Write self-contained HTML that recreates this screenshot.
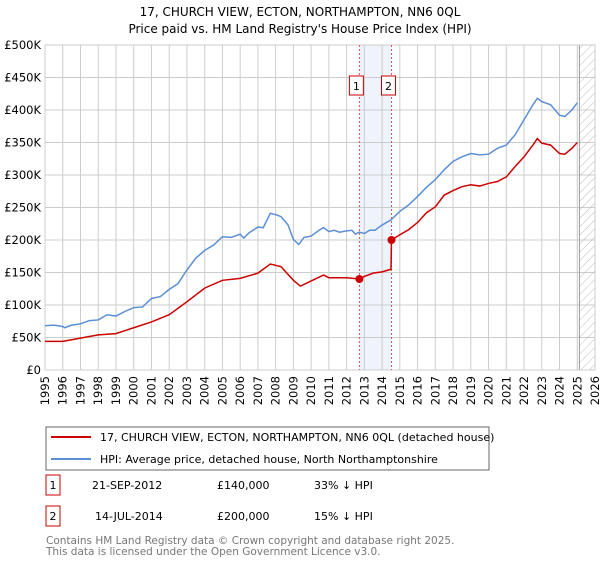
<!DOCTYPE html>
<html><head><meta charset="utf-8"><style>
body{margin:0;background:#fff;font-family:"DejaVu Sans","Liberation Sans",sans-serif;}
svg text{font-family:"DejaVu Sans","Liberation Sans",sans-serif;}
</style></head><body>
<svg id="chart" width="600" height="560" xmlns="http://www.w3.org/2000/svg">
<defs><pattern id="hatch" width="6" height="6" patternUnits="userSpaceOnUse" patternTransform="rotate(45)"><line x1="0" y1="0" x2="0" y2="6" stroke="#bbb" stroke-width="1"/></pattern></defs>
<text x="300" y="16" font-size="12" text-anchor="middle">17, CHURCH VIEW, ECTON, NORTHAMPTON, NN6 0QL</text>
<text x="300" y="33" font-size="12" text-anchor="middle">Price paid vs. HM Land Registry's House Price Index (HPI)</text>
<g id="grid"></g>
<g id="marks"></g>
<g id="axes"></g>
<g>
<rect x="46" y="427" width="443" height="43" fill="#fff" stroke="#666"/>
<line x1="51" y1="437" x2="91" y2="437" stroke="#cc0000" stroke-width="2"/>
<text x="100" y="441" font-size="11">17, CHURCH VIEW, ECTON, NORTHAMPTON, NN6 0QL (detached house)</text>
<line x1="51" y1="459" x2="91" y2="459" stroke="#5b8fd4" stroke-width="2"/>
<text x="100" y="463" font-size="11">HPI: Average price, detached house, North Northamptonshire</text>
</g>
<g font-size="11">
<rect x="46" y="475" width="14" height="20" fill="#fff" stroke="#cc0000"/><text x="53" y="489" text-anchor="middle">1</text>
<text x="92" y="489">21-SEP-2012</text><text x="217" y="489">£140,000</text><text x="314" y="489">33% ↓ HPI</text>
<rect x="46" y="506" width="14" height="20" fill="#fff" stroke="#cc0000"/><text x="53" y="520" text-anchor="middle">2</text>
<text x="95" y="520">14-JUL-2014</text><text x="217" y="520">£200,000</text><text x="314" y="520">15% ↓ HPI</text>
</g>
<text x="46" y="544" font-size="10.5" fill="#777">Contains HM Land Registry data © Crown copyright and database right 2025.</text>
<text x="46" y="555" font-size="10.5" fill="#777">This data is licensed under the Open Government Licence v3.0.</text>
</svg>
<script>
const hpiYears=[1995,1995.5,1996,1996.1,1996.5,1997,1997.5,1998,1998.5,1999,1999.5,2000,2000.5,2001,2001.5,2002,2002.5,2003,2003.5,2004,2004.5,2005,2005.5,2006,2006.2,2006.5,2007,2007.3,2007.7,2008,2008.3,2008.7,2009,2009.3,2009.6,2010,2010.5,2010.7,2011,2011.3,2011.6,2012,2012.3,2012.5,2012.7,2013,2013.3,2013.6,2014,2014.5,2015,2015.5,2016,2016.5,2017,2017.5,2018,2018.5,2019,2019.5,2020,2020.5,2021,2021.5,2022,2022.5,2022.75,2023,2023.5,2024,2024.3,2024.7,2025];
const hpiValues=[68,69,67,65,69,71,76,77,85,83,90,96,97,110,113,124,133,154,172,184,192,205,204,209,203,211,220,219,241,239,236,223,201,193,204,206,216,219,213,215,212,214,215,209,212,210,215,215,223,231,244,254,267,281,293,308,321,328,333,331,332,341,346,362,385,408,418,413,408,392,390,400,411];
const paidYears=[1995,1996,1997,1998,1999,2000,2001,2002,2003,2004,2005,2006,2007,2007.7,2008.3,2009,2009.4,2010,2010.7,2011,2012,2012.72,2013,2013.5,2014,2014.5,2014.53,2015,2015.5,2016,2016.5,2017,2017.5,2018,2018.5,2019,2019.5,2020,2020.5,2021,2021.5,2022,2022.5,2022.75,2023,2023.5,2024,2024.3,2024.7,2025];
const paidValues=[44,44,49,54,56,65,74,85,105,126,138,141,149,163,159,138,129,137,146,142,142,140,144,149,151,155,200,208,216,227,242,251,269,276,282,285,283,287,290,297,313,328,346,356,349,346,333,332,341,350];
const saleYears=[2012.72,2014.53];
const saleValues=[140,200];
const saleLabels=["1","2"];
const yTicks=[0,50,100,150,200,250,300,350,400,450,500];
const yTickLabels=["£0","£50K","£100K","£150K","£200K","£250K","£300K","£350K","£400K","£450K","£500K"];
const xTicks=[1995,1996,1997,1998,1999,2000,2001,2002,2003,2004,2005,2006,2007,2008,2009,2010,2011,2012,2013,2014,2015,2016,2017,2018,2019,2020,2021,2022,2023,2024,2025,2026];
const dataEnd=2025.12;

const X0=45,X1=595,Y0=370,Y1=45,XMIN=1995,XMAX=2026,YMAX=500;
const xs=v=>X0+(v-XMIN)/(XMAX-XMIN)*(X1-X0);
const ys=v=>Y0-v/YMAX*(Y0-Y1);
const NS="http://www.w3.org/2000/svg";
function mk(tag,attrs,parent){const e=document.createElementNS(NS,tag);for(const k in attrs)e.setAttribute(k,attrs[k]);parent.appendChild(e);return e;}
const grid=document.getElementById('grid'),marks=document.getElementById('marks'),axes=document.getElementById('axes');
const band=mk('rect',{x:xs(saleYears[0]),y:Y1,width:xs(saleYears[1])-xs(saleYears[0]),height:Y0-Y1,fill:'#eef3fc'},grid);


yTicks.forEach((t,i)=>{
  const l=mk('line',{x1:X0,x2:X1,y1:ys(t),y2:ys(t),stroke:'#ccc'},grid);
  
  
  const tx=mk('text',{x:X0-4,y:ys(t)+4,'font-size':'11.5','text-anchor':'end'},axes);
  tx.textContent=yTickLabels[i];
  
  
});
xTicks.forEach(t=>{
  const l=mk('line',{x1:xs(t),x2:xs(t),y1:Y1,y2:Y0,stroke:'#ccc'},grid);
  
  
  const tx=mk('text',{x:0,y:0,'font-size':'11.5','text-anchor':'end',transform:`translate(${xs(t)+4},${Y0+6}) rotate(-90)`},axes);
  tx.textContent=t;
  
  
});
const hat=mk('rect',{x:xs(dataEnd),y:Y1,width:X1-xs(dataEnd),height:Y0-Y1,fill:'url(#hatch)'},grid);


const hl=mk('line',{x1:xs(dataEnd),x2:xs(dataEnd),y1:Y1,y2:Y0,stroke:'#999'},grid);


const border=mk('rect',{x:X0,y:Y1,width:X1-X0,height:Y0-Y1,fill:'none',stroke:'#ccc'},grid);


saleYears.forEach((s,i)=>{
  const l=mk('line',{x1:xs(s),x2:xs(s),y1:Y1,y2:Y0,stroke:'#f05050','stroke-dasharray':'2,2'},marks);
  
  
});
const hp=mk('polyline',{points:hpiYears.map((y,i)=>xs(y)+','+ys(hpiValues[i])).join(' '),fill:'none',stroke:'#5b8fd4','stroke-width':'1.5'},marks);


const pp=mk('polyline',{points:paidYears.map((y,i)=>xs(y)+','+ys(paidValues[i])).join(' '),fill:'none',stroke:'#cc0000','stroke-width':'1.5'},marks);


saleYears.forEach((s,i)=>{
  const c=mk('circle',{cx:xs(s),cy:ys(saleValues[i]),r:4,fill:'#cc0000'},marks);
  
  
  const bx=mk('rect',{x:xs(s)-10,y:76,width:14,height:19,fill:'#fff',stroke:'#cc0000'},marks);
  
  
  const t=mk('text',{x:xs(s)-3,y:90,'font-size':'11','text-anchor':'middle'},marks);
  t.textContent=saleLabels[i];
  
  
});
</script>
</body></html>
